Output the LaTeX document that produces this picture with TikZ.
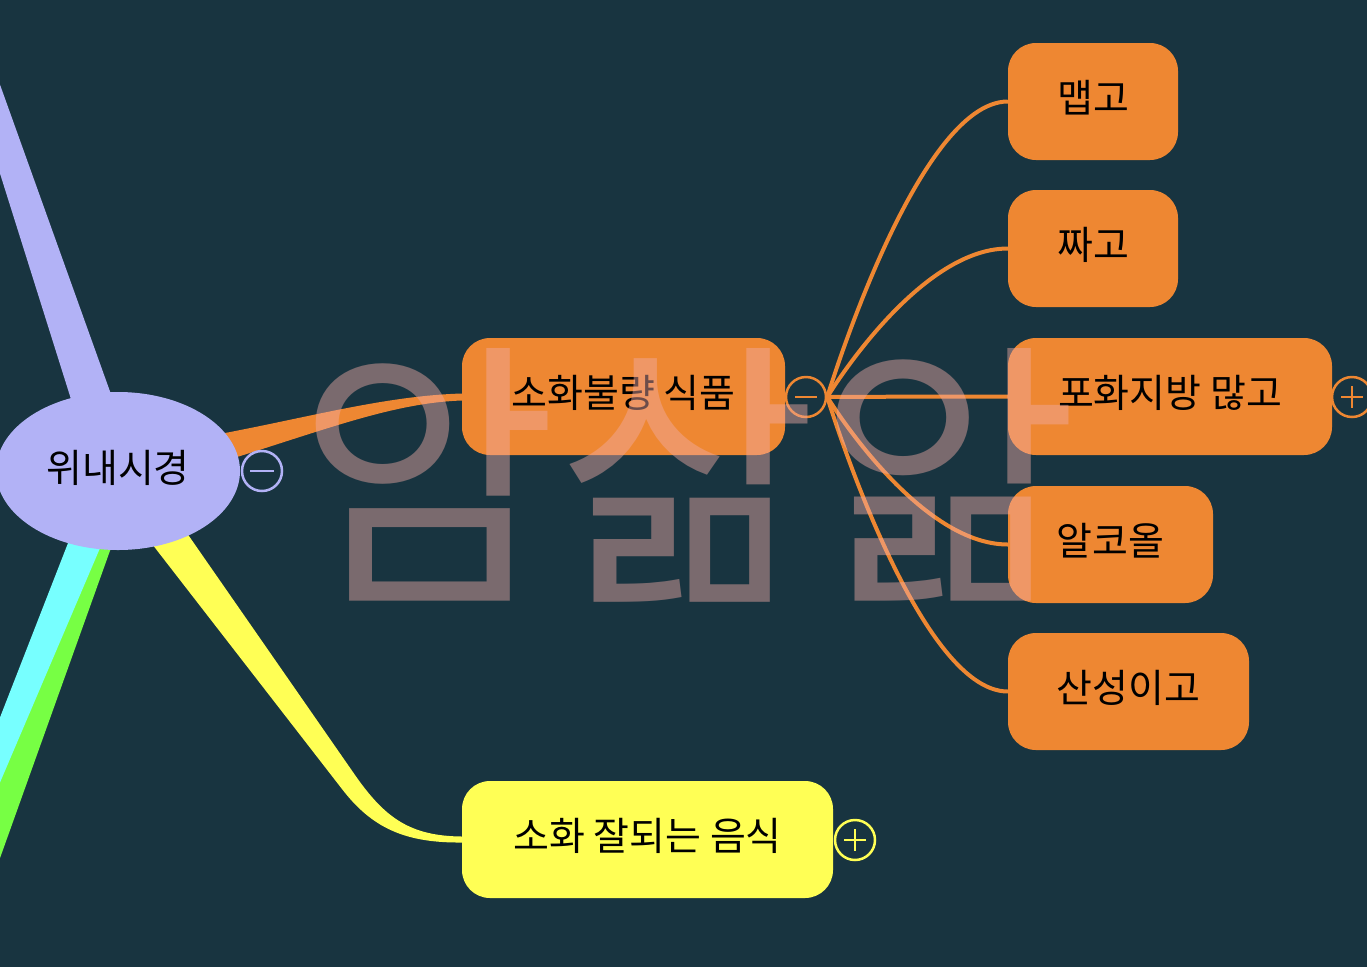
\documentclass[tikz,border=0pt]{standalone}
\usepackage{fontspec}
\newfontfamily\kr{Noto Sans CJK KR}
\usetikzlibrary{shapes.geometric,calc}
\definecolor{bgC}{RGB}{24,52,64}
\definecolor{orangeC}{RGB}{238,135,50}
\definecolor{lavC}{RGB}{178,178,246}
\definecolor{yelC}{RGB}{255,255,85}
\definecolor{cyanC}{RGB}{119,255,255}
\definecolor{greenC}{RGB}{119,255,68}
\definecolor{wmC}{RGB}{242,172,166}
\tikzset{
  lbl/.style={font=\kr\fontsize{39}{39}\selectfont, text=black, text height=30pt, text depth=8pt},
  box/.style={lbl, rounded corners=28pt, minimum height=117pt, inner sep=0pt},
  obox/.style={box, fill=orangeC},
  tog/.style={circle, draw=#1, line width=2.5pt, fill=bgC, minimum size=40pt, inner sep=0pt},
  sign/.style={draw=#1, line width=2.5pt},
  twig/.style={draw=orangeC, line width=4pt},
}
\begin{document}
\begin{tikzpicture}[x=1pt,y=-1pt]
\fill[bgC] (0,0) rectangle (1367,967);
\useasboundingbox (0,0) rectangle (1367,967);
\clip (0,0) rectangle (1367,967);

\coordinate (rc) at (118,471);

% nodes of level 1
\node[obox, minimum width=323pt] (sohwa) at (623.5,396.5) {소화불량 식품};
\node[box, fill=yelC, minimum width=371pt] (yel) at (647.5,839.5) {소화 잘되는 음식};

% tapered branches from root
\fill[greenC] (121,520) -- (-15,900) -- (-79,900) -- (89,520) -- cycle;
\fill[cyanC] (112,520) -- (-16,820) -- (-40,820) -- (77,520) -- cycle;
\fill[lavC] (-16,40) -- (131,450) -- (87,450) -- (-42,40) -- cycle;
\fill[yelC] ($(rc)+(64,55)$) -- (355,775) .. controls (385,818) and (410,836) .. ($(yel.west)+(0,-3)$)
   -- ($(yel.west)+(0,3)$) .. controls (405,843) and (372,828) .. (342,789) -- ($(rc)+(24,60)$) -- cycle;
\fill[orangeC] ($(rc)+(80,-33)$) .. controls (300,420) and (380,396) .. ($(sohwa.west)+(0,-3)$)
   -- ($(sohwa.west)+(0,4)$) .. controls (390,403) and (320,432) .. ($(rc)+(90,-5)$) -- cycle;

% root
\node[ellipse, fill=lavC, minimum width=244pt, minimum height=158pt, inner sep=0pt, lbl] (root) at (rc) {위내시경};
\node[tog=lavC] (t0) at (262,471) {};
\draw[sign=lavC] ($(t0.center)+(-12,0)$) -- ($(t0.center)+(12,0)$);

% level 2 nodes
\node[obox, minimum width=170pt] (maep) at (1093,101.5) {맵고};
\node[obox, minimum width=170pt] (jja) at (1093,248.5) {짜고};
\node[obox, minimum width=324pt] (pohwa) at (1170,396.5) {포화지방 많고};
\node[obox, minimum width=205pt] (alco) at (1110.5,544.5) {알코올};
\node[obox, minimum width=241pt] (san) at (1128.5,691.5) {산성이고};

% toggles
\node[tog=orangeC] (t1) at (806,397) {};
\draw[sign=orangeC] ($(t1.center)+(-11,0)$) -- ($(t1.center)+(11,0)$);
\node[tog=orangeC] (t2) at (1352,397) {};
\draw[sign=orangeC] ($(t2.center)+(-11,0)$) -- ($(t2.center)+(11,0)$);
\draw[sign=orangeC] ($(t2.center)+(0,-11)$) -- ($(t2.center)+(0,11)$);
\node[tog=yelC] (t3) at (855,840) {};
\draw[sign=yelC] ($(t3.center)+(-11,0)$) -- ($(t3.center)+(11,0)$);
\draw[sign=yelC] ($(t3.center)+(0,-11)$) -- ($(t3.center)+(0,11)$);

% connectors to level 2
\foreach \n in {maep,jja,pohwa,alco,san}{
  \draw[twig] (t1.east) .. controls (t1.east) and +(-91,0) .. (\n.west);
}

% watermark
\node[text=wmC, text opacity=0.45, inner sep=0pt,
      font=\kr\fontsize{283}{283}\selectfont] (wm) at (688,475) {암삶앎};
\end{tikzpicture}
\end{document}
